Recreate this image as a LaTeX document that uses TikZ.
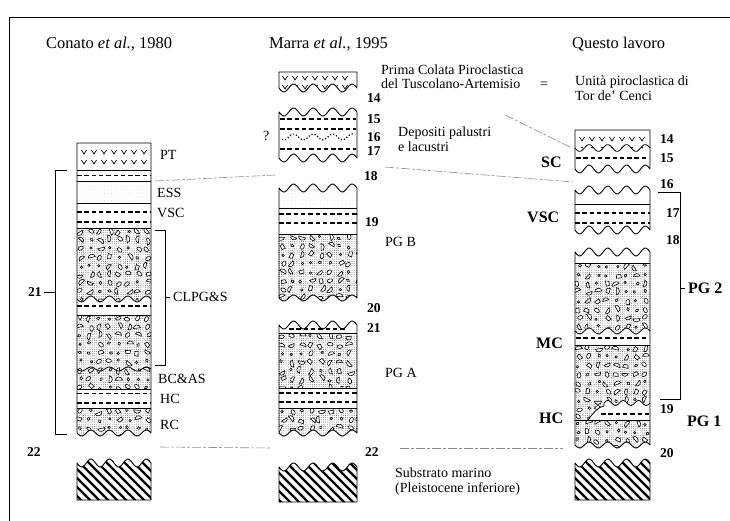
\documentclass[tikz,border=0pt]{standalone}
\usepackage{fontspec}
\setmainfont{Liberation Serif}
\usetikzlibrary{patterns.meta}
\newcommand\pebbles[4]{%
  \pgfmathtruncatemacro\pnx{(#3-#1)/9.5}%
  \pgfmathtruncatemacro\pny{(#4-#2)/8.5}%
  \foreach \i in {0,...,\pnx}{\foreach \j in {0,...,\pny}{%
    \pgfmathsetmacro\px{#1+3.5+\i*9.6+1.8*rand}%
    \pgfmathsetmacro\py{#2+3.5+\j*8.6+1.6*rand}%
    \pgfmathsetmacro\pr{360*rnd}%
    \pgfmathrandominteger{\pk}{1}{6}%
    \ifcase\pk\or
      \draw[peb,rotate around={\pr:(\px,\py)}] (\px,\py) ellipse (1.7 and 1.3);
    \or
      \draw[peb,rotate around={\pr:(\px,\py)}] (\px-3.2,\py) arc (180:360:3.2 and 2.8) -- cycle;
    \or
      \draw[peb,rotate around={\pr:(\px,\py)}] (\px,\py) ellipse (2.8 and 1.8);
    \or
      \draw[peb] (\px,\py) circle (1.2);
    \or
      \draw[peb,rotate around={\pr:(\px,\py)}] (\px-2.6,\py+1.4) -- (\px-1.7,\py-1.9) -- (\px+2.2,\py-1.5) -- (\px+2.7,\py+1.7) -- cycle;
    \or
      \draw[peb,rotate around={\pr:(\px,\py)}] (\px-3.6,\py) arc (180:360:3.6 and 3.1) -- cycle;
    \fi
  }}}
\newcommand\conglom[4]{\fill[stip] (#1,#2) rectangle (#3,#4);\pebbles{#1}{#2}{#3}{#4}}
\newcommand\substrate[4]{%
  \begin{scope}
    \clip (#1,#4) -- plot[wp=#1:#2] (\x,{#3+4*wv(\x,#1,#2)}) -- (#2,#4) -- cycle;
    \foreach \k in {-54,-45,...,81} \draw[hat] (#1+\k,#3-12) -- ++(62,62);
  \end{scope}
  \draw[col] (#1,#4) -- plot[wp=#1:#2] (\x,{#3+4*wv(\x,#1,#2)}) -- (#2,#4) -- cycle;}
\newcommand\vrow[4]{\foreach \vx in {#1,#2,...,#3} \draw[vm] (\vx-2.6,#4-2) -- (\vx,#4+2) -- (\vx+2.6,#4-2);}
\begin{document}
\begin{tikzpicture}[x=1pt,y=-1pt,
  declare function={wv(\xv,\xa,\xb)=sin(1440/(\xb-\xa)*(\xv-\xa));},
  col/.style={line width=0.9pt,line join=round},
  thin1/.style={line width=0.8pt},
  dsh/.style={line width=1.2pt,dash pattern=on 4.5pt off 2.8pt},
  vm/.style={line width=0.7pt},
  peb/.style={line width=0.6pt,fill=white},
  stip/.style={pattern={Dots[radius=0.4pt,distance=2.2pt]},pattern color=black!75},
  stipL/.style={pattern={Dots[radius=0.3pt,distance=3.6pt]},pattern color=black!30},
  hat/.style={line width=2.3pt},
  conn/.style={black!45,line width=0.6pt,dash pattern=on 9pt off 2pt on 3pt off 2pt},
  lbl/.style={font=\fontsize{14}{14}\selectfont,anchor=west,inner sep=0pt},
  num/.style={font=\fontsize{13.5}{14}\selectfont\bfseries,anchor=west,inner sep=0pt},
  blbl/.style={font=\fontsize{16}{16}\selectfont\bfseries,anchor=west,inner sep=0pt},
  head/.style={font=\fontsize{16.5}{17}\selectfont,anchor=west,inner sep=0pt},
  wp/.style={domain=#1,samples=41,smooth}]
\useasboundingbox (0,0) rectangle (730,521);
\pgfmathsetseed{12}
% frame
\draw[line width=0.8pt] (9,521) -- (9,17) -- (730,17);
% headings
\node[head] (h1) at (46,44) {Conato \textit{et al.}, 1980};
\node[head] (h2) at (269,44) {Marra \textit{et al.}, 1995};
\node[head] (h3) at (572,44) {Questo lavoro};

% ================= LEFT COLUMN =================
\fill[stipL] (77,181) rectangle (151,203);
\begin{scope}
  \clip (77,228) -- (151,228) -- (151,299) -- plot[wp=151:77] (\x,{299+3*wv(\x,77,151)}) -- cycle;
  \conglom{77}{228}{151}{303}
\end{scope}
\draw[thin1] plot[wp=77:151] (\x,{299+3*wv(\x,77,151)});
\begin{scope}
  \clip (77,315) rectangle (151,389);
  \conglom{77}{315}{151}{389}
\end{scope}
\draw[thin1] plot[wp=77:151] (\x,{369+2*wv(\x,77,151)});
\begin{scope}
  \clip (77,408) -- (151,408) -- (151,433) -- plot[wp=151:77] (\x,{433+3*wv(\x,77,151)}) -- cycle;
  \conglom{77}{408}{151}{437}
\end{scope}
\draw[col] plot[wp=77:151] (\x,{433+3*wv(\x,77,151)}) -- (151,143) -- (77,143) -- cycle;
\foreach \yy in {170,181,203,228,315,389,408} \draw[col] (77,\yy) -- (151,\yy);
\foreach \yy in {175.5,212,222,306,393.5,403} \draw[dsh] (77,\yy) -- (151,\yy);
\vrow{84}{94}{144}{152}
\vrow{84}{94}{144}{162}
\substrate{77}{151}{463}{500}
% brackets
\draw[col] (67,170) -- (55,170) -- (55,434) -- (67,434);
\draw[col] (44,292) -- (55,292);
\draw[col] (155,230) -- (165,230) -- (165,365) -- (155,365);
\draw[col] (165,297) -- (170,297);
% labels
\node[num] (n21) at (28,292) {21};
\node[num] (n22l) at (27,452) {22};
\node[lbl] (pt) at (160,155) {PT};
\node[lbl] (ess) at (157,193) {ESS};
\node[lbl] (vscl) at (157,213) {VSC};
\node[lbl] (clpg) at (173,297) {CLPG\&S};
\node[lbl] (bcas) at (158,379) {BC\&AS};
\node[lbl] (hcl) at (160,399) {HC};
\node[lbl] (rcl) at (160,425) {RC};

% ================= MIDDLE COLUMN =================
% unit A
\draw[col] (279,72) -- (357,72) -- plot[wp=357:279] (\x,{88+4*wv(\x,279,357)}) -- cycle;
\begin{scope}
  \clip (279,72) -- (357,72) -- plot[wp=357:279] (\x,{88+4*wv(\x,279,357)}) -- cycle;
  \vrow{285}{295}{345}{78}
  \vrow{285}{295}{345}{87}
\end{scope}
% unit B
\draw[col] plot[wp=279:357] (\x,{112+4*wv(\x,279,357)}) -- plot[wp=357:279] (\x,{158+4*wv(\x,279,357)}) -- cycle;
\foreach \yy in {119,129,149} \draw[dsh] (280,\yy) -- (356,\yy);
\draw[line width=1.2pt,dash pattern=on 1.2pt off 2pt] plot[wp=282:354] (\x,{137+3*wv(\x,279,357)});
% unit C
\fill[stipL] (279,186) rectangle (357,208);
\begin{scope}
  \clip (279,234) -- (357,234) -- plot[wp=357:279] (\x,{298+3*wv(\x,279,357)}) -- cycle;
  \conglom{279}{234}{357}{302}
\end{scope}
\draw[col] plot[wp=279:357] (\x,{188+4*wv(\x,279,357)}) -- plot[wp=357:279] (\x,{298+3*wv(\x,279,357)}) -- cycle;
\foreach \yy in {208,234} \draw[col] (279,\yy) -- (357,\yy);
\foreach \yy in {214,223} \draw[dsh] (279,\yy) -- (357,\yy);
% unit D
\begin{scope}
  \clip (279,333) rectangle (357,388);
  \conglom{279}{333}{357}{388}
\end{scope}
\begin{scope}
  \clip (279,408) -- (357,408) -- plot[wp=357:279] (\x,{433+3*wv(\x,279,357)}) -- cycle;
  \conglom{279}{408}{357}{437}
\end{scope}
\draw[col] plot[wp=279:357] (\x,{325+4*wv(\x,279,357)}) -- plot[wp=357:279] (\x,{433+3*wv(\x,279,357)}) -- cycle;
\foreach \yy in {333,388,408} \draw[col] (279,\yy) -- (357,\yy);
\foreach \yy in {393,402} \draw[dsh] (279,\yy) -- (357,\yy);
\draw[dsh] (289,329) -- (347,329);
\substrate{279}{357}{467}{502}
% labels
\node[num] (n14m) at (367,98) {14};
\node[num] (n15m) at (367,119) {15};
\node[num] (n16m) at (367,137) {16};
\node[num] (n17m) at (367,151) {17};
\node[num] (n18m) at (364,176) {18};
\node[num] (n19m) at (365,222) {19};
\node[num] (n20m) at (367,308) {20};
\node[num] (n21m) at (367,328) {21};
\node[num] (n22m) at (365,452) {22};
\node[lbl] (q) at (263,136) {?};
\node[lbl] (pgb) at (385,242) {PG B};
\node[lbl] (pga) at (385,373) {PG A};
\node[lbl] (pc1) at (381,70) {Prima Colata Piroclastica};
\node[lbl] (pc2) at (381,84) {del Tuscolano-Artemisio};
\node[lbl] (eq) at (540,85) {=};
\node[lbl] (ut1) at (575,82) {Unità piroclastica di};
\node[lbl] (ut2) at (575,96) {Tor de’ Cenci};
\node[lbl] (dp1) at (398,133) {Depositi palustri};
\node[lbl] (dp2) at (398,147) {e lacustri};
\node[lbl] (sm1) at (395,473) {Substrato marino};
\node[lbl] (sm2) at (395,489) {(Pleistocene inferiore)};

% ================= RIGHT COLUMN =================
% unit SC
\draw[col] (575,130) -- (650,130) -- plot[wp=650:575] (\x,{169+4*wv(\x,575,650)}) -- cycle;
\vrow{582}{592}{642}{139}
\begin{scope}
  \clip (575,148) rectangle (650,160);
  \vrow{582}{592}{642}{146}
\end{scope}
\draw[thin1] plot[wp=575:650] (\x,{148+3.5*wv(\x,575,650)});
\draw[dsh] (576,158) -- (649,158);
% unit VSC
\draw[col] plot[wp=575:650] (\x,{190+4*wv(\x,575,650)}) -- plot[wp=650:575] (\x,{230+4*wv(\x,575,650)}) -- cycle;
\draw[col] (575,204) -- (650,204);
\foreach \yy in {213,223} \draw[dsh] (575,\yy) -- (650,\yy);
% unit 3
\begin{scope}
  \clip (575,263) -- (650,263) -- plot[wp=650:575] (\x,{331+3*wv(\x,575,650)}) -- cycle;
  \conglom{575}{263}{650}{335}
\end{scope}
\begin{scope}
  \clip (575,345) rectangle (650,420);
  \conglom{575}{345}{650}{420}
\end{scope}
\fill[white] (588,420) .. controls (594,412) and (598,407) .. (604,406) -- plot[wp=604:650] (\x,{403-2.5*sin(1080/46*(\x-604))}) -- (650,420) -- cycle;
\draw[thin1] (588,420) .. controls (594,412) and (598,407) .. (604,406) -- plot[wp=604:650] (\x,{403-2.5*sin(1080/46*(\x-604))});
\draw[dsh] (601,414) -- (650,414);
\begin{scope}
  \clip (575,420) -- (650,420) -- plot[wp=650:575] (\x,{445+3*wv(\x,575,650)}) -- cycle;
  \conglom{575}{420}{650}{449}
\end{scope}
\fill[stipL] (575,250) rectangle (650,263);
\draw[col] plot[wp=575:650] (\x,{252+4*wv(\x,575,650)}) -- plot[wp=650:575] (\x,{445+3*wv(\x,575,650)}) -- cycle;
\draw[thin1] plot[wp=575:650] (\x,{331+3*wv(\x,575,650)});
\foreach \yy in {263,345,420} \draw[col] (575,\yy) -- (650,\yy);
\draw[dsh] (576,338) -- (649,338);
\substrate{575}{650}{463}{500}
% bracket PG 2
\draw[col] (658,192) -- (680,192) -- (680,399) -- (660,399);
\draw[col] (680,288) -- (685,288);
% labels
\node[num] (n14r) at (660,139) {14};
\node[num] (n15r) at (660,158) {15};
\node[num] (n16r) at (660,184) {16};
\node[num] (n17r) at (666,213) {17};
\node[num] (n18r) at (666,240) {18};
\node[num] (n19r) at (660,409) {19};
\node[num] (n20r) at (660,453) {20};
\node[blbl] (sc) at (541,162) {SC};
\node[blbl] (vscr) at (527,217) {VSC};
\node[blbl] (mc) at (536,343) {MC};
\node[blbl] (hcr) at (539,418) {HC};
\node[blbl] (pg2) at (688,288) {PG 2};
\node[blbl] (pg1) at (687,421) {PG 1};

% ================= CONNECTORS =================
\coordinate (a1) at (155,181); \coordinate (a2) at (275,175);
\coordinate (b1) at (385,167); \coordinate (b2) at (573,182);
\coordinate (c1) at (505,115); \coordinate (c2) at (572,148);
\coordinate (d1) at (160,447); \coordinate (d2) at (272,448);
\coordinate (d3) at (400,448); \coordinate (d4) at (563,448);
\draw[conn] (a1) -- (a2);
\draw[conn] (b1) -- (b2);
\draw[conn] (c1) -- (c2);
\draw[conn] (d1) -- (d2);
\draw[conn] (d3) -- (d4);
\end{tikzpicture}
\end{document}
